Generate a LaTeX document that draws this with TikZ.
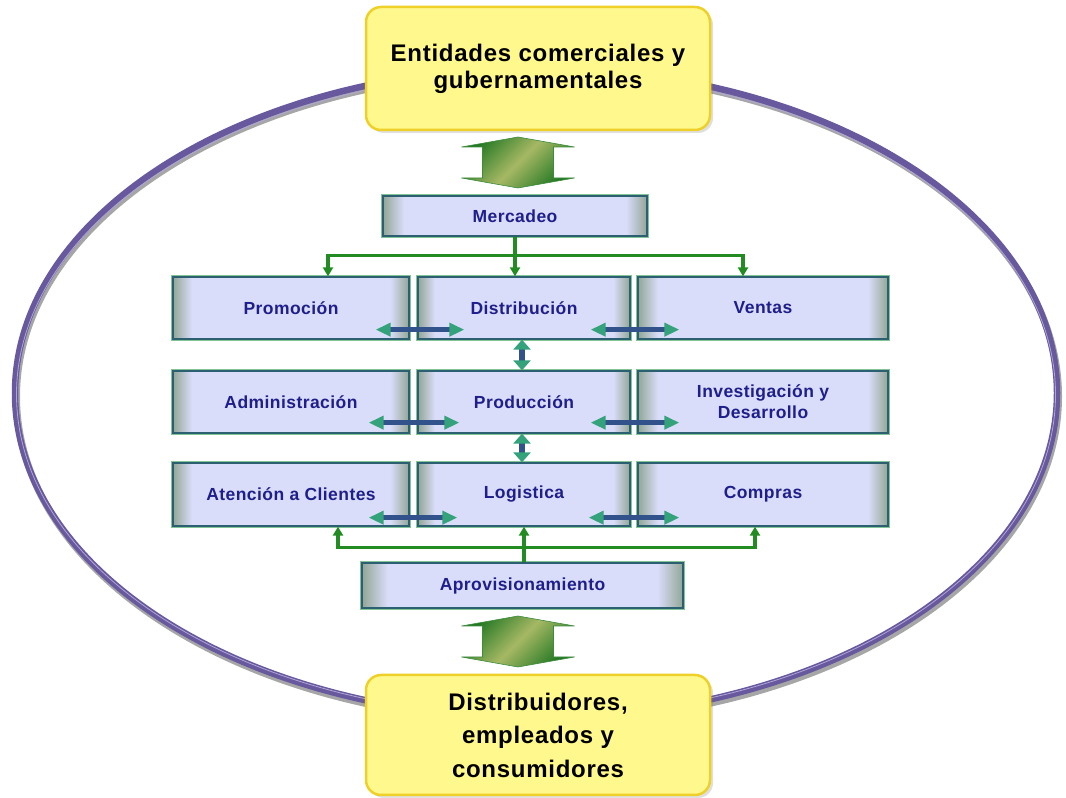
\documentclass[tikz,border=0pt]{standalone}
\usepackage{fontspec}
\setmainfont{Liberation Sans}
\usetikzlibrary{arrows.meta,calc,shadows}

\definecolor{ringpurple}{RGB}{104,88,158}
\definecolor{ringlight}{RGB}{176,166,214}
\definecolor{yellowfill}{RGB}{255,248,140}
\definecolor{yellowedge}{RGB}{238,208,40}
\definecolor{boxfill}{RGB}{218,221,250}
\definecolor{glowedge}{RGB}{146,166,150}
\definecolor{edgegreen}{RGB}{130,196,150}
\definecolor{edgeteal}{RGB}{45,95,115}
\definecolor{textblue}{RGB}{30,30,140}
\definecolor{feedgreen}{RGB}{34,140,34}
\definecolor{linkblue}{RGB}{50,82,140}
\definecolor{linkhead}{RGB}{52,162,122}
\definecolor{gdark}{RGB}{36,120,36}
\definecolor{glight}{RGB}{166,184,100}
\definecolor{gedge}{RGB}{60,140,60}

% soft side glow of the unit boxes
\pgfdeclarehorizontalshading{boxglow}{100bp}{color(0bp)=(glowedge); color(25bp)=(glowedge); color(29bp)=(boxfill); color(71bp)=(boxfill); color(75bp)=(glowedge); color(100bp)=(glowedge)}

\newcommand\unitfont{\fontsize{17.5}{21}\selectfont\bfseries\addfontfeature{LetterSpace=2.5}}
\newcommand\partyfont{\fontsize{24}{27}\selectfont\bfseries\addfontfeature{LetterSpace=3}}

\tikzset{
  unit/.style={rectangle, inner sep=0pt, align=center, text=textblue, font=\unitfont,
    preaction={draw=edgegreen, line width=4.5pt},
    shade, shading=boxglow, draw=edgeteal, line width=1.3pt},
  party/.style={rectangle, rounded corners=15pt, fill=yellowfill, draw=yellowedge,
    line width=2.5pt, align=center, font=\partyfont, text=black,
    minimum width=344, drop shadow={shadow xshift=3pt, shadow yshift=-3pt, opacity=0.25}},
  feed/.style={draw=feedgreen, line width=3.5pt, line join=miter,
    >={Triangle[length=9pt,width=10pt]}},
  link/.style={draw=linkblue, line width=5pt, <->,
    >={Triangle[length=15pt,width=13pt,color=linkhead]}},
  vlink/.style={link, line width=6pt, >={Triangle[length=10pt,width=17pt,color=linkhead]}},
  bigarrow/.pic={
    \shade[top color=gdark, bottom color=gdark, middle color=glight, shading angle=45,
      draw=gedge, line width=0.6pt]
      (0,25.5) -- (56.5,15.5) -- (35.5,15.5) -- (35.5,-15.5) -- (56.5,-15.5) -- (0,-25.5)
      -- (-56.5,-15.5) -- (-35.5,-15.5) -- (-35.5,15.5) -- (-56.5,15.5) -- cycle;
  }
}

\begin{document}
\begin{tikzpicture}[x=1pt,y=1pt]
\useasboundingbox (0,0) rectangle (1066,798);

% outer ring with its soft shadow and sheen
\draw[black!35, line width=7pt] (537.5,401.5) ellipse [x radius=521, y radius=325];
\draw[ringpurple, line width=6.5pt] (536,405) ellipse [x radius=521, y radius=325];
\draw[ringlight, line width=0.8pt] (536,403.5) ellipse [x radius=519.5, y radius=322];

% outer parties
\node[party, minimum height=123] (top) at (538,729.5)
  {Entidades comerciales y\\gubernamentales};
\node[party, minimum height=120, font=\fontsize{24}{33.5}\selectfont\bfseries\addfontfeature{LetterSpace=3}] (bottom) at (538,63)
  {Distribuidores,\\empleados y\\consumidores};

% exchange arrows with the parties
\pic at (518,635.5) {bigarrow};
\pic at (518,156.5) {bigarrow};

% functional units
\node[unit, minimum width=264, minimum height=40] (merc) at (515,582) {Mercadeo};

\node[unit, minimum width=236, minimum height=62] (promo)  at (291,490) {Promoción};
\node[unit, minimum width=212, minimum height=62] (dist)   at (524,490) {Distribución};
\node[unit, minimum width=250, minimum height=62] (ventas) at (763,490) {Ventas};

\node[unit, minimum width=236, minimum height=62] (admin)  at (291,396) {Administración};
\node[unit, minimum width=212, minimum height=62] (prod)   at (524,396) {Producción};
\node[unit, minimum width=250, minimum height=62] (invest) at (763,396) {Investigación y\\Desarrollo};

\node[unit, minimum width=236, minimum height=63] (aten)    at (291,303.5) {Atención a Clientes};
\node[unit, minimum width=212, minimum height=63] (logis)   at (524,303.5) {Logistica};
\node[unit, minimum width=250, minimum height=63] (compras) at (763,303.5) {Compras};

\node[unit, minimum width=321, minimum height=45] (aprov) at (522.5,212.5) {Aprovisionamiento};

% marketing feeds the first row
\coordinate (tapL) at ([xshift=37pt]promo.north);
\coordinate (tapR) at ([xshift=-20pt]ventas.north);
\coordinate (busT) at ([yshift=-19pt]merc.south);
\draw[feed, <->] (tapL) -- (tapL |- busT) -- (tapR |- busT) -- (tapR);
\draw[feed, ->] (merc.south) -- (merc.south |- dist.north);

% supply feeds the last row
\coordinate (tapL2) at ([xshift=47pt]aten.south);
\coordinate (tapR2) at ([xshift=-8pt]compras.south);
\coordinate (busB) at ([yshift=15pt]aprov.north);
\draw[feed, <->] (tapL2) -- (tapL2 |- busB) -- (tapR2 |- busB) -- (tapR2);
\draw[feed, ->] (logis.south |- aprov.north) -- (logis.south);

% links between neighbouring units
\draw[link] ([shift={(-34pt,10pt)}]promo.south east) -- ([shift={(47pt,10pt)}]dist.south west);
\draw[link] ([shift={(-40pt,10pt)}]dist.south east) -- ([shift={(42pt,10pt)}]ventas.south west);
\draw[link] ([shift={(-41pt,11pt)}]admin.south east) -- ([shift={(42pt,11pt)}]prod.south west);
\draw[link] ([shift={(-40pt,11pt)}]prod.south east) -- ([shift={(42pt,11pt)}]invest.south west);
\draw[link] ([shift={(-41pt,9pt)}]aten.south east) -- ([shift={(40pt,9pt)}]logis.south west);
\draw[link] ([shift={(-42pt,9pt)}]logis.south east) -- ([shift={(42pt,9pt)}]compras.south west);
\draw[vlink] ([xshift=-2pt]dist.south) -- ([xshift=-2pt]prod.north);
\draw[vlink] ([xshift=-2pt]prod.south) -- ([xshift=-2pt]logis.north);
\end{tikzpicture}
\end{document}
